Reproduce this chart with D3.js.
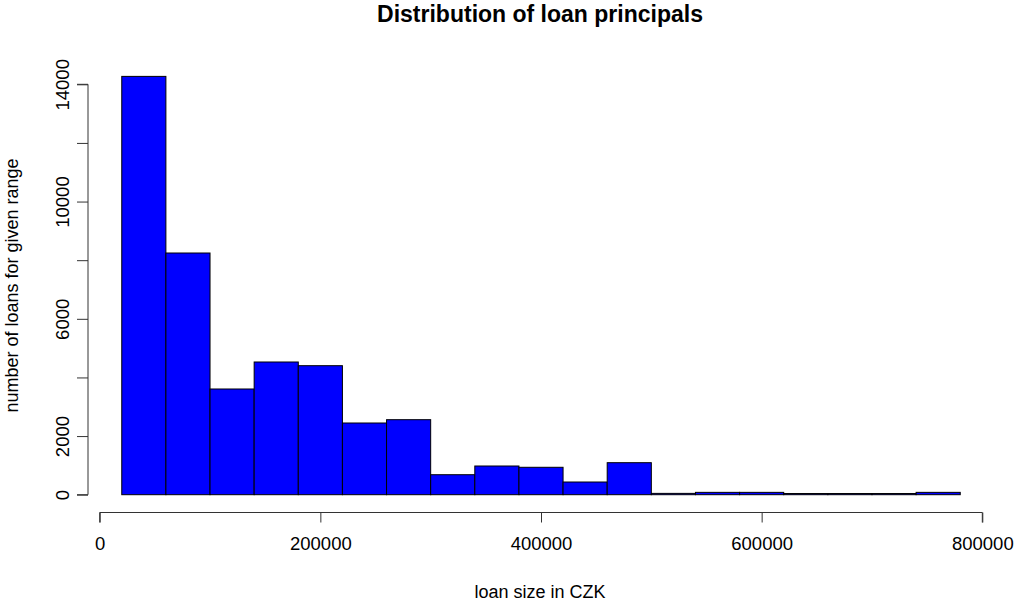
<!DOCTYPE html>
<html>
<head>
<meta charset="utf-8">
<script src="https://cdn.jsdelivr.net/npm/d3@7"></script>
<style>
  html, body { margin: 0; padding: 0; background: #fff; }
  svg { display: block; font-family: "Liberation Sans", Arial, sans-serif; }
</style>
</head>
<body>
<svg id="chart" width="1014" height="603"></svg>
<script>
// Histogram bin edges (CZK) and loan counts per bin
const binEdges = [20000, 60000, 100000, 140000, 180000, 220000, 260000, 300000, 340000,
  380000, 420000, 460000, 500000, 540000, 580000, 620000, 660000, 700000, 740000, 780000];
const loanCounts = [14270, 8245, 3606, 4527, 4401, 2446, 2559, 682, 979, 935, 433, 1092,
  45, 80, 80, 40, 40, 40, 80];

const xTicks = [0, 200000, 400000, 600000, 800000];
const yTicks = [0, 2000, 4000, 6000, 8000, 10000, 12000, 14000];
const yTickLabels = ["0", "2000", "", "6000", "", "10000", "", "14000"];

const titleText = "Distribution of loan principals";
const xTitle = "loan size in CZK";
const yTitle = "number of loans for given range";

const svg = d3.select("#chart");

const x = d3.scaleLinear().domain([0, 800000]).range([99.7, 982.3]);
const y = d3.scaleLinear().domain([0, 14000]).range([494.7, 84.3]);

const bins = loanCounts.map((c, i) => ({ x0: binEdges[i], x1: binEdges[i + 1], count: c }));

// Bars
svg.append("g")
  .selectAll("rect")
  .data(bins)
  .join("rect")
  .attr("x", d => x(d.x0))
  .attr("width", d => x(d.x1) - x(d.x0))
  .attr("y", d => y(d.count))
  .attr("height", d => y(0) - y(d.count))
  .attr("fill", "#0000ff")
  .attr("stroke", "#000")
  .attr("stroke-width", 1);

const axisColor = "#333";

// X axis
const xAxis = svg.append("g")
  .attr("transform", "translate(0,512.5)")
  .call(d3.axisBottom(x).tickValues(xTicks).tickFormat(d3.format("d")).tickSize(10).tickPadding(14));
xAxis.select(".domain").attr("stroke", axisColor).attr("d", `M${x(0)},10V0H${x(800000)}V10`);
xAxis.selectAll(".tick line").attr("stroke", axisColor);
xAxis.selectAll(".tick text").attr("fill", "#000").attr("font-size", 18.5)
  .attr("font-family", "Liberation Sans, Arial, sans-serif");

// Y axis
const yAxis = svg.append("g")
  .attr("transform", "translate(88,0)")
  .call(d3.axisLeft(y).tickValues(yTicks).tickFormat((d, i) => yTickLabels[i]).tickSize(11).tickPadding(0));
yAxis.select(".domain").attr("stroke", axisColor).attr("d", `M-11,${y(0)}H0V${y(14000)}H-11`);
yAxis.selectAll(".tick line").attr("stroke", axisColor);
yAxis.selectAll(".tick text")
  .attr("fill", "#000")
  .attr("font-size", 18.5)
  .attr("font-family", "Liberation Sans, Arial, sans-serif")
  .attr("x", null)
  .attr("dy", null)
  .attr("text-anchor", "middle")
  .attr("transform", "translate(-26,0) rotate(-90)")
  .attr("y", 0)
  .attr("dominant-baseline", "central");

// Titles
svg.append("text")
  .attr("x", 540).attr("y", 22)
  .attr("text-anchor", "middle")
  .attr("font-size", 23).attr("font-weight", "bold")
  .text(titleText);

svg.append("text")
  .attr("x", 540).attr("y", 598)
  .attr("text-anchor", "middle")
  .attr("font-size", 18)
  .text(xTitle);

svg.append("text")
  .attr("transform", `translate(18,${y(7136)}) rotate(-90)`)
  .attr("text-anchor", "middle")
  .attr("font-size", 18)
  .text(yTitle);
</script>
</body>
</html>
